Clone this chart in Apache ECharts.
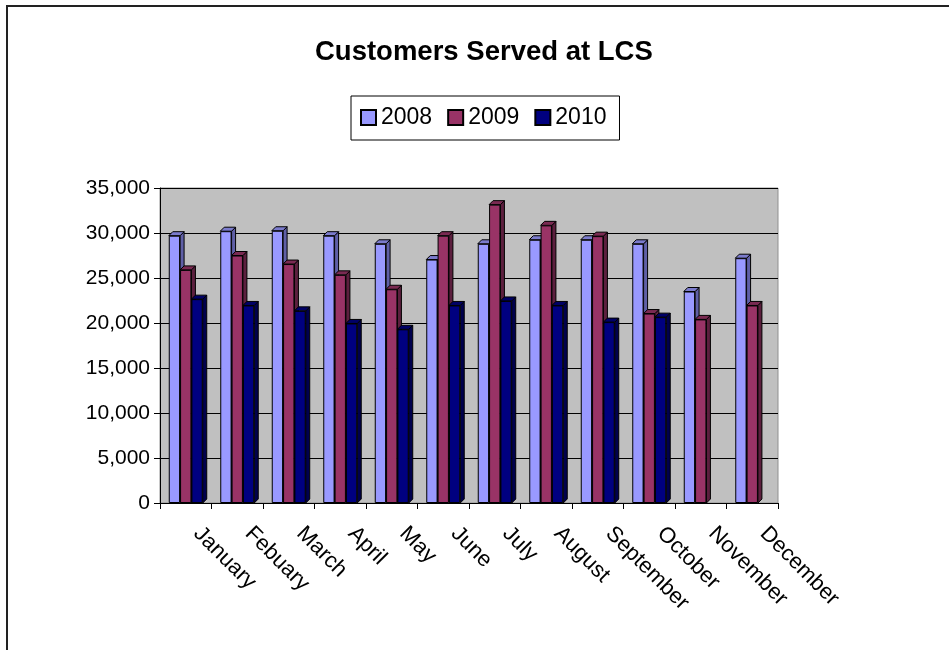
<!DOCTYPE html>
<html>
<head>
<meta charset="utf-8">
<script src="https://cdn.jsdelivr.net/npm/echarts@6/dist/echarts.min.js"></script>
<style>html,body{margin:0;padding:0;background:#fff;}#c{width:949px;height:650px;}</style>
</head>
<body>
<div id="c"></div>
<script>
const categories = ['January','Febuary','March','April','May','June','July','August','September','October','November','December'];
const years = ['2008','2009','2010'];
const s2008 = [29700, 30200, 30250, 29700, 28800, 27050, 28800, 29250, 29250, 28800, 23500, 27200];
const s2009 = [25900, 27500, 26550, 25350, 23750, 29700, 33150, 30850, 29650, 21050, 20400, 21950];
const s2010 = [22650, 21950, 21350, 19950, 19300, 21950, 22450, 21950, 20100, 20650, null, null];
const yTicks = [0, 5000, 10000, 15000, 20000, 25000, 30000, 35000];

const seriesValues = [s2008, s2009, s2010];
const frontColors = ['#9999FF', '#993366', '#000080'];
const sideColors = ['#5f5fa6', '#5c1f3e', '#00004d'];
const topColors = ['#7b7bcc', '#7a2a52', '#000066'];
const BAR_RATIO = 0.22;
const DX = 4, DY = 4;
const FONT = '"Liberation Sans", Arial, sans-serif';

const series = [];
seriesValues.forEach(function (vals, k) {
  series.push({
    name: years[k],
    type: 'bar',
    data: vals,
    barWidth: (BAR_RATIO * 100) + '%',
    barGap: '0%',
    itemStyle: { color: frontColors[k], borderColor: '#000', borderWidth: 1 },
    emphasis: { disabled: true },
    animation: false
  });
  series.push({
    name: years[k] + '-depth',
    type: 'custom',
    data: vals.map(function (v, i) { return [i, v == null ? NaN : v]; }),
    encode: { x: 0, y: 1 },
    silent: true,
    animation: false,
    renderItem: function (params, api) {
      const idx = api.value(0), val = api.value(1);
      if (isNaN(val)) return null;
      const top = api.coord([idx, val]);
      const base = api.coord([idx, 0]);
      const band = api.size([1, 0])[0];
      const bw = band * BAR_RATIO;
      const xl = top[0] + (k - 1) * bw - bw / 2;
      const xr = xl + bw;
      const yt = top[1], yb = base[1];
      return {
        type: 'group',
        children: [
          { type: 'polygon',
            shape: { points: [[xr, yt], [xr + DX, yt - DY], [xr + DX, yb - DY], [xr, yb]] },
            style: { fill: sideColors[k], stroke: '#000', lineWidth: 1 } },
          { type: 'polygon',
            shape: { points: [[xl, yt], [xl + DX, yt - DY], [xr + DX, yt - DY], [xr, yt]] },
            style: { fill: topColors[k], stroke: '#000', lineWidth: 1 } }
        ]
      };
    }
  });
});

const chart = echarts.init(document.getElementById('c'), null, { renderer: 'canvas' });
chart.setOption({
  backgroundColor: '#fff',
  animation: false,
  textStyle: { fontFamily: FONT },
  title: {
    text: 'Customers Served at LCS',
    left: 315, top: 38, padding: 0,
    textStyle: { fontFamily: FONT, fontSize: 27.5, fontWeight: 'bold', color: '#000' }
  },
  legend: {
    data: years,
    left: 351, top: 96,
    padding: [10, 13, 11, 9],
    itemGap: 15, itemWidth: 15, itemHeight: 15,
    borderColor: '#000', borderWidth: 1,
    icon: 'rect',
    textStyle: { fontFamily: FONT, fontSize: 23, color: '#000' },
    selectedMode: false
  },
  grid: {
    left: 160, right: 171, top: 188, bottom: 147,
    show: true, backgroundColor: '#C0C0C0', borderColor: '#909090', borderWidth: 1
  },
  xAxis: {
    type: 'category',
    data: categories,
    boundaryGap: true,
    axisLine: { lineStyle: { color: '#000', width: 1 } },
    axisTick: { show: true, length: 6, lineStyle: { color: '#000' } },
    axisLabel: { rotate: -45, margin: 16, padding: [0, 0, 0, 16], fontSize: 22, color: '#000', fontFamily: FONT, interval: 0 },
    splitLine: { show: false }
  },
  yAxis: {
    type: 'value',
    min: yTicks[0], max: yTicks[yTicks.length - 1], interval: yTicks[1] - yTicks[0],
    axisLine: { show: true, lineStyle: { color: '#000', width: 1 } },
    axisTick: { show: true, length: 6, lineStyle: { color: '#000' } },
    axisLabel: {
      margin: 10, fontSize: 21, color: '#000', fontFamily: FONT,
      formatter: function (v) { return v.toLocaleString('en-US'); }
    },
    splitLine: { show: true, lineStyle: { color: '#000', width: 1 } }
  },
  graphic: [{
    type: 'rect',
    shape: { x: 7, y: 6, width: 1000, height: 800 },
    style: { fill: 'none', stroke: '#222', lineWidth: 2 },
    silent: true
  }],
  series: series
});
</script>
</body>
</html>
